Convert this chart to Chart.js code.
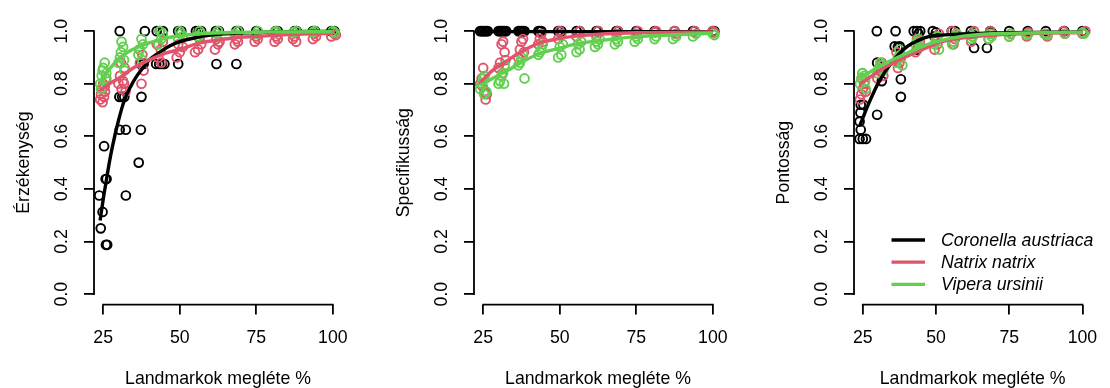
<!DOCTYPE html>
<html>
<head>
<meta charset="utf-8">
<script src="https://cdn.jsdelivr.net/npm/chart.js@4/dist/chart.umd.min.js"></script>
<style>
  body { margin: 0; background: #fff; width: 1110px; height: 388px; overflow: hidden; position: relative; }
  .panel { position: absolute; top: 0; height: 388px; }
</style>
</head>
<body>
<div class="panel" style="left:0;width:370px"><canvas id="c1"></canvas></div>
<div class="panel" style="left:380px;width:370px"><canvas id="c2"></canvas></div>
<div class="panel" style="left:760px;width:350px"><canvas id="c3"></canvas></div>
<script>
// axis ticks, titles, species
const xTicks = [25, 50, 75, 100];
const yTicks = [0, 0.2, 0.4, 0.6, 0.8, 1.0];
const xTitle = 'Landmarkok megléte %';
const yTitles = ['Érzékenység', 'Specifikusság', 'Pontosság'];
const species = ['Coronella austriaca', 'Natrix natrix', 'Vipera ursinii'];
const colors = ['#000000', '#DF536B', '#61D04F'];

// --- Érzékenység (sensitivity) points [x, y]
const sensCoronella = [[23.7,0.375],[24.2,0.25],[24.8,0.3125],[25.3,0.5625],[25.8,0.4375],[26.1,0.4375],[25.9,0.1875],[26.3,0.1875],
  [30.4,1],[30.3,0.75],[31.2,0.75],[31.9,0.75],[30.4,0.625],[32.4,0.625],[32.4,0.375],
  [36.6,0.5],[37.3,0.625],[37.5,0.75],[37.2,0.875],[38.2,0.875],[38.6,1],
  [42.5,1],[43.5,1],[44.5,1],[42.3,0.875],[43.3,0.875],[44.2,0.875],[45,0.875],
  [49.5,1],[50.5,1],[49.5,0.875],[55.3,1],[56.2,1],[57,1],[61.8,1],[62.8,1],[62,0.875],
  [68.5,1],[68.5,0.875],[69.3,1],[75,1],[81.3,1],[82,1],[87.5,1],[88.2,1],[93.5,1],[94.2,1],[99.5,1],[100.5,1]];
const sensNatrix = [[24,0.74],[24.3,0.76],[24.6,0.78],[25,0.8],[25.3,0.75],[25.6,0.77],[26,0.82],[24.8,0.73],[25.5,0.79],
  [30,0.8],[30.5,0.83],[31,0.78],[31.5,0.81],[32,0.86],[30.8,0.88],[31.8,0.8],[32.3,0.77],
  [37.5,0.8],[37,0.88],[37.8,0.91],[38.2,0.85],[36.8,0.93],
  [43,0.9],[43.8,0.93],[44.5,0.96],[42.5,0.95],[44,0.88],
  [49,0.9],[50,0.92],[51,0.94],[49.5,0.95],[55,0.92],[56,0.93],[57,0.95],[56.5,0.97],
  [61.5,0.93],[62.5,0.95],[63,0.96],[62,0.97],[68,0.95],[69,0.96],[68.5,0.97],
  [74.5,0.96],[75.5,0.97],[75,0.98],[81,0.96],[82,0.97],[81.5,0.98],[87,0.97],[88,0.96],[87.5,0.98],
  [93.5,0.97],[94.5,0.98],[94,0.99],[99.5,0.98],[100.5,0.99],[101,0.985]];
const sensVipera = [[24,0.8],[24.5,0.83],[25,0.86],[25.5,0.88],[24.8,0.85],[25.8,0.82],[26,0.84],[24.3,0.78],
  [30,0.88],[30.5,0.9],[31,0.96],[31.5,0.94],[32,0.85],[30.8,0.92],[31.8,0.89],
  [36.5,0.91],[37,0.93],[37.5,0.97],[38,0.95],[37.8,0.89],
  [43,0.95],[44,0.97],[44.5,0.99],[43.5,1.0],[49.5,0.97],[50.5,0.99],[50,1],[51,0.98],
  [56,0.98],[56.5,1],[57,0.99],[62,0.99],[62.5,1],[68,0.99],[69,1],[75,0.99],[75.5,1],[81,0.995],[81.5,1],
  [87,0.995],[88,1],[94,1],[93.5,0.995],[100,1],[100.5,0.995]];
// fitted curves [x, y]
const sensCoronellaFit = [[24,0.28],[25,0.36],[26,0.43],[27,0.5],[28,0.56],[30,0.66],[32,0.74],[34,0.79],[36,0.83],[38,0.86],
  [40,0.89],[43.5,0.92],[47,0.945],[50,0.96],[54,0.972],[60,0.985],[65,0.99],[75,0.995],[100,1.0]];
const sensNatrixFit = [[24,0.775],[27,0.8],[30,0.82],[34.8,0.86],[40,0.89],[45.7,0.917],[50,0.93],[56.5,0.955],[62,0.965],
  [67.4,0.974],[75,0.98],[83.7,0.986],[90,0.989],[100,0.992]];
const sensViperaFit = [[24,0.805],[27,0.855],[30.4,0.898],[33,0.92],[36.9,0.942],[40,0.955],[45.7,0.974],[50,0.982],
  [56.5,0.99],[65,0.994],[80,0.997],[100,0.998]];

// --- Specifikusság (specificity)
const specCoronella = [[24,1],[24.5,1],[25,1],[25.5,1],[26,1],[26.5,1],[30,1],[30.5,1],[31,1],[31.5,1],[32,1],[32.5,1],
  [36.5,1],[37,1],[37.5,1],[38,1],[38.5,1],[43,1],[43.5,1],[44,1],[49.5,1],[50,1],[50.5,1],[55.5,1],[56.5,1],
  [62,1],[62.5,1],[68.5,1],[69,1],[75,1],[81,1],[87.5,1],[93.5,1],[94,1],[100,1],[100.5,1]];
const specNatrix = [[24,0.8],[24.5,0.82],[25,0.86],[25.5,0.77],[25.8,0.74],[26.2,0.76],[24.8,0.79],
  [30,0.86],[30.5,0.88],[31,0.95],[31.5,0.96],[32,0.92],[31.2,0.84],[32.3,0.89],
  [36.5,0.9],[37,0.93],[37.5,0.96],[38,0.97],[38.3,0.92],[43,0.95],[43.5,0.97],[44,0.99],[44.5,0.96],
  [49.5,0.97],[50.5,0.99],[50,1.0],[55.5,0.98],[56.5,1.0],[62,0.98],[62.5,1],[68.5,0.99],[69,1],
  [75,0.99],[75.5,1],[81,0.995],[81.5,1],[87.5,1],[88,0.99],[94,1],[100,1],[100.5,0.995]];
const specVipera = [[24,0.78],[24.5,0.8],[25,0.82],[25.5,0.83],[26,0.77],[25.3,0.76],
  [30,0.8],[30.5,0.81],[31,0.83],[31.5,0.84],[32,0.87],[31.8,0.8],
  [36.5,0.87],[37,0.88],[37.5,0.9],[38.5,0.82],[38,0.91],[43,0.91],[44,0.93],[44.5,0.95],[43.5,0.92],
  [49.5,0.9],[50.5,0.91],[50,0.94],[51,0.95],[55.5,0.92],[56.5,0.93],[56,0.95],[57,0.96],
  [61.5,0.94],[62.5,0.95],[62,0.96],[63,0.97],[68,0.95],[69,0.96],[68.5,0.97],[74.5,0.96],[75.5,0.97],[75,0.98],
  [81,0.97],[81.5,0.98],[87,0.97],[88,0.98],[93.5,0.98],[94.5,0.99],[100,0.99],[100.5,0.985]];
const specCoronellaFit = [[24,0.998],[50,0.998],[100,0.998]];
const specNatrixFit = [[24,0.805],[28,0.85],[32.6,0.886],[38,0.925],[43.5,0.955],[50,0.972],[54.3,0.98],[65.2,0.99],[75,0.994],[100,0.997]];
const specViperaFit = [[24,0.792],[28,0.82],[32.6,0.848],[38,0.885],[43.5,0.915],[50,0.935],[54.3,0.949],[65.2,0.967],
  [76.1,0.98],[87,0.986],[100,0.992]];

// --- Pontosság (accuracy)
const accCoronella = [[23.9,0.59],[25,0.59],[26.1,0.59],[24.3,0.625],[23.9,0.656],[24.2,0.69],[24.3,0.72],[25.2,0.72],
  [29.8,1],[29.9,0.682],[29.9,0.88],[31.5,0.81],[31,0.86],
  [36.2,1],[35.9,0.942],[37,0.94],[37.6,0.942],[38,0.817],[38,0.75],
  [42.4,1],[43.5,1],[44.6,1],[44,0.99],[43.5,0.93],[48.9,1],[50,0.995],[49.5,0.98],
  [55.4,1],[56.5,1],[61.9,1],[63,0.936],[62.5,0.99],[67.4,0.936],[68.5,1],[69,0.995],
  [75,1],[81.3,1],[87.5,1],[93.8,1],[100,1],[100.5,0.995]];
const accNatrix = [[24,0.74],[24.5,0.76],[25,0.78],[25.5,0.8],[26,0.77],[24.8,0.82],
  [30,0.82],[30.5,0.85],[31,0.87],[31.5,0.88],[32,0.83],[37,0.86],[37.5,0.88],[38,0.9],[36.5,0.92],
  [43,0.92],[44,0.94],[44.5,0.96],[43.5,0.97],[49.5,0.93],[50.5,0.95],[50,0.97],[51,0.99],
  [56,0.95],[56.5,0.97],[57,0.99],[55.5,1],[62,0.96],[62.5,0.98],[63,1],[68,0.97],[69,0.99],[68.5,1],
  [75,0.98],[75.5,0.99],[81,0.98],[81.5,0.995],[87.5,0.99],[88,0.98],[94,0.99],[93.5,1],[100,0.99],[101,1]];
const accVipera = [[24,0.8],[24.5,0.82],[25,0.84],[25.5,0.83],[26,0.78],[24.8,0.84],[25.8,0.81],
  [30,0.84],[30.5,0.86],[31,0.88],[31.5,0.87],[32,0.85],[36.5,0.88],[37,0.9],[37.5,0.93],[38,0.91],[38.5,0.87],
  [43,0.95],[43.5,0.96],[44,0.97],[44.5,0.94],[49.5,0.95],[50,0.97],[50.5,0.98],[51,0.93],
  [56,0.96],[56.5,0.98],[57,0.99],[55.5,0.95],[62,0.97],[62.5,0.98],[63,0.99],[68,0.97],[68.5,0.99],[69,0.98],
  [75,0.98],[75.5,0.99],[81,0.985],[81.5,0.99],[87,0.99],[88,0.985],[94,0.99],[100,0.995],[100.5,0.99]];
const accCoronellaFit = [[24,0.642],[27.2,0.729],[30.4,0.805],[34.8,0.88],[40.2,0.942],[44,0.965],[47.8,0.98],[52,0.985],
  [58.7,0.989],[70,0.993],[100,0.997]];
const accNatrixFit = [[24,0.798],[27.5,0.825],[31.5,0.855],[35.5,0.88],[40.2,0.905],[47.8,0.942],[52,0.96],[58.7,0.974],
  [69.6,0.985],[80,0.99],[100,0.995]];
const accViperaFit = [[24,0.823],[27.5,0.845],[31.5,0.87],[35.5,0.893],[40.2,0.917],[47.8,0.952],[52,0.965],[58.7,0.98],
  [69.6,0.99],[80,0.993],[100,0.996]];

const FONT = '"Liberation Sans", Arial, sans-serif';
const FS = 17.7;

const toXY = arr => arr.map(p => ({ x: p[0], y: p[1] }));

// R-style axes: line only from first to last tick
const rAxes = {
  id: 'rAxes',
  afterDraw(chart) {
    const { ctx, scales: { x, y } } = chart;
    ctx.save();
    ctx.strokeStyle = '#000';
    ctx.lineWidth = 1.8;
    ctx.beginPath();
    ctx.moveTo(x.getPixelForValue(xTicks[0]) - 0.9, x.top);
    ctx.lineTo(x.getPixelForValue(xTicks[xTicks.length - 1]) + 0.9, x.top);
    ctx.moveTo(y.right, y.getPixelForValue(yTicks[0]) + 0.9);
    ctx.lineTo(y.right, y.getPixelForValue(yTicks[yTicks.length - 1]) - 0.9);
    ctx.stroke();
    ctx.restore();
  }
};

// legend in the last panel
const rLegend = {
  id: 'rLegend',
  afterDraw(chart) {
    if (!chart.options.plugins.rLegend.show) return;
    const ctx = chart.ctx;
    ctx.save();
    ctx.font = 'italic ' + FS + 'px ' + FONT;
    ctx.textBaseline = 'middle';
    ctx.fillStyle = '#000';
    species.forEach((name, i) => {
      const yy = 240 + i * 22.2;
      ctx.strokeStyle = colors[i];
      ctx.lineWidth = 3.3;
      ctx.beginPath();
      ctx.moveTo(131.5, yy);
      ctx.lineTo(165, yy);
      ctx.stroke();
      ctx.fillText(name, 181, yy + 1);
    });
    ctx.restore();
  }
};

function makePanel(id, yTitle, pointSets, fitSets, padRight, legend) {
  const datasets = [];
  pointSets.forEach((pts, i) => {
    datasets.push({
      label: species[i],
      data: toXY(pts),
      borderColor: colors[i],
      backgroundColor: 'rgba(0,0,0,0)',
      pointRadius: 4.4,
      pointBorderWidth: 1.9,
      showLine: false,
      order: 6 - i
    });
  });
  fitSets.forEach((fit, i) => {
    datasets.push({
      label: species[i] + ' fit',
      data: toXY(fit),
      borderColor: colors[i],
      borderWidth: 3.4,
      pointRadius: 0,
      showLine: true,
      cubicInterpolationMode: 'monotone',
      order: 3 - i
    });
  });

  new Chart(document.getElementById(id), {
    type: 'scatter',
    data: { datasets },
    options: {
      responsive: true,
      maintainAspectRatio: false,
      animation: false,
      layout: { padding: { top: 17.4, right: padRight, left: 0, bottom: 0 } },
      plugins: { legend: { display: false }, tooltip: { enabled: false }, rLegend: { show: legend } },
      scales: {
        x: {
          type: 'linear', min: 22, max: 103,
          afterBuildTicks: s => { s.ticks = xTicks.map(v => ({ value: v })); },
          afterFit: s => { s.height = 83.4; },
          border: { display: false },
          grid: { drawOnChartArea: false, drawTicks: true, tickLength: 10, color: '#000', lineWidth: 1.8 },
          ticks: { color: '#000', font: { family: FONT, size: FS }, padding: 12.5, maxRotation: 0 },
          title: { display: true, text: xTitle, color: '#000', font: { family: FONT, size: FS, lineHeight: 1 }, padding: 0 }
        },
        y: {
          type: 'linear', min: -0.04, max: 1.04,
          afterBuildTicks: s => { s.ticks = yTicks.map(v => ({ value: v })); },
          afterFit: s => { s.width = 94; },
          border: { display: false },
          grid: { drawOnChartArea: false, drawTicks: true, tickLength: 10, color: '#000', lineWidth: 1.8 },
          ticks: {
            color: '#000', font: { family: FONT, size: FS }, minRotation: 90, maxRotation: 90,
            crossAlign: 'center', padding: 10, callback: v => v.toFixed(1)
          },
          title: { display: true, text: yTitle, color: '#000', font: { family: FONT, size: FS, lineHeight: 1.2 }, padding: { top: 13, bottom: 0 } }
        }
      }
    },
    plugins: [rAxes, rLegend]
  });
}

makePanel('c1', yTitles[0], [sensCoronella, sensNatrix, sensVipera], [sensCoronellaFit, sensNatrixFit, sensViperaFit], 28, false);
makePanel('c2', yTitles[1], [specCoronella, specNatrix, specVipera], [specCoronellaFit, specNatrixFit, specViperaFit], 28, false);
makePanel('c3', yTitles[2], [accCoronella, accNatrix, accVipera], [accCoronellaFit, accNatrixFit, accViperaFit], 8, true);
</script>
</body>
</html>
